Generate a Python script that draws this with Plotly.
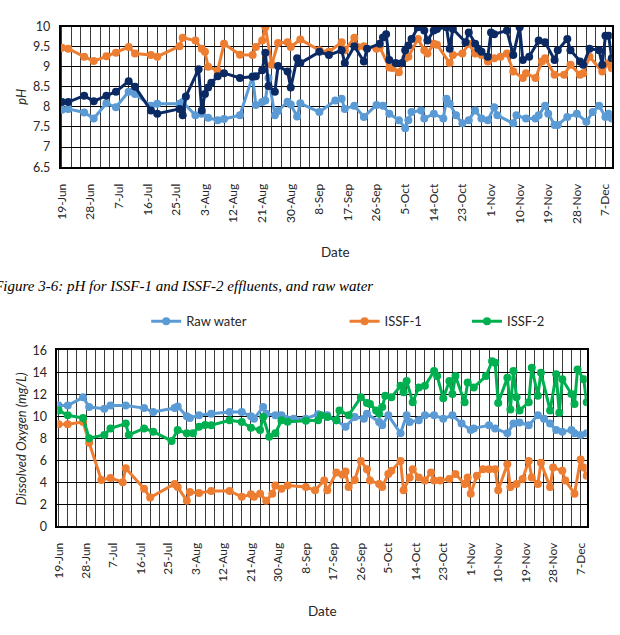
import datetime as dt
import plotly.graph_objects as go

# ---------------- data (days counted from 19-Jun) ----------------
base_date = dt.date(2017, 6, 19)

ph_raw_days = [0,2,7,10,14,17,21,23,28,30,37,38,42,44,46,49,51,56,60,61,63,64,65,67,68,71,72,74,75,81,86,88,89,92,95,99,101,103,106,108,109,110,113,114,117,120,121,122,124,126,128,130,132,134,136,137,142,143,146,149,150,152,153,155,156,159,162,165,167,169,171,172,173]
ph_raw = [7.93,7.95,7.86,7.71,8.09,7.99,8.38,8.32,8.03,8.08,8.08,8.12,7.79,7.83,7.73,7.67,7.7,7.79,8.76,8.05,8.12,8.16,8.72,7.79,7.9,8.13,8.06,7.76,8.09,7.87,8.16,8.2,7.95,8.03,7.75,8.05,8.03,7.83,7.67,7.47,7.67,7.87,7.91,7.71,7.83,7.71,8.2,8.08,7.79,7.59,7.67,7.91,7.71,7.67,7.99,7.79,7.59,7.79,7.71,7.71,7.79,8.03,7.83,7.55,7.55,7.75,7.83,7.63,7.87,8.03,7.75,7.83,7.71]

ph_issf1_days = [0,2,7,10,14,17,21,23,28,30,37,38,42,44,45,46,49,51,56,60,61,63,64,66,68,71,72,75,81,84,88,89,92,93,95,99,100,103,104,106,108,109,112,114,115,117,118,122,123,126,128,130,132,134,136,138,140,142,145,146,149,151,152,155,158,160,163,164,166,170,172,173]
ph_issf1 = [9.47,9.45,9.25,9.14,9.26,9.35,9.49,9.33,9.29,9.25,9.51,9.72,9.65,9.45,9.37,9.0,8.9,9.57,9.30,9.29,9.49,9.65,9.98,9.05,9.59,9.61,9.49,9.68,9.41,9.37,9.61,9.41,9.72,9.49,9.51,9.45,9.49,8.98,8.97,8.86,9.21,9.25,9.69,9.41,9.33,9.57,9.55,9.09,9.29,9.33,9.57,9.33,9.29,9.13,9.21,9.25,9.33,8.88,8.72,8.84,8.72,9.13,9.21,8.8,8.8,9.05,8.8,8.84,9.25,8.88,9.09,8.96]

ph_issf2_days = [0,2,7,10,14,17,21,23,28,30,37,38,39,43,44,45,46,47,49,51,56,60,61,63,64,65,67,68,71,72,74,75,81,84,88,89,92,95,96,100,101,102,103,105,107,108,109,110,112,114,115,117,118,121,122,123,127,128,130,131,132,134,135,136,140,142,144,145,147,150,152,155,156,159,160,163,164,166,169,170,171,172,173]
ph_issf2 = [8.12,8.12,8.28,8.14,8.28,8.38,8.64,8.5,7.91,7.83,7.95,7.79,8.26,8.94,7.91,8.32,8.48,8.6,8.76,8.84,8.72,8.75,8.76,8.91,9.35,8.52,8.38,9.02,8.88,8.48,9.21,9.09,9.37,9.29,9.41,9.09,9.51,9.13,9.45,9.57,9.73,9.81,9.17,9.09,9.09,9.41,9.53,9.69,9.98,9.9,9.65,9.9,9.94,9.98,9.45,9.94,9.61,9.85,9.57,9.45,9.37,9.25,9.85,9.81,9.9,9.29,9.98,9.17,9.25,9.65,9.61,9.17,9.41,9.69,9.41,9.13,9.05,9.45,9.41,9.05,9.77,9.77,9.21]

do_raw_days = [0,3,8,10,15,17,22,28,31,38,39,42,43,46,50,56,60,63,64,67,68,71,73,77,81,85,88,91,94,97,100,101,105,106,108,112,114,115,118,120,123,126,129,132,135,136,141,143,147,149,151,154,157,159,161,163,165,168,169,171,173]
do_raw = [10.98,10.98,11.73,10.84,10.69,10.98,10.98,10.75,10.39,10.75,10.9,10.0,9.85,10.09,10.24,10.39,10.39,10.0,9.79,10.84,10.24,10.09,10.09,9.79,9.79,10.2,10.09,9.64,9.04,9.94,9.79,10.24,9.49,9.19,10.09,8.45,10.09,9.49,9.64,10.09,10.09,9.79,10.09,9.34,8.75,8.9,9.19,8.9,8.45,9.34,9.43,9.19,10.09,9.79,9.34,8.75,8.6,8.75,8.45,8.3,8.45]

do_issf1_days = [0,3,8,10,14,17,21,22,28,30,38,39,42,43,46,50,56,60,63,64,66,68,70,71,73,75,81,84,87,88,91,93,94,95,97,99,101,102,105,106,108,109,112,113,115,116,118,120,122,123,125,128,130,133,134,135,137,139,141,143,144,147,148,150,152,154,155,157,158,161,162,165,166,169,171,172,173]
do_issf1 = [9.28,9.28,9.49,7.6,4.2,4.39,4.0,5.27,3.41,2.61,3.85,3.56,2.31,3.11,3.02,3.2,3.2,2.67,2.9,2.67,2.96,2.31,2.96,3.7,3.41,3.7,3.56,3.26,4.15,3.26,4.89,4.68,4.98,3.56,4.2,5.93,5.19,4.15,3.85,3.56,4.74,5.04,5.93,3.26,4.44,5.19,4.44,4.15,4.89,4.15,4.15,4.3,4.74,3.85,4.44,2.96,4.59,5.19,5.19,5.19,3.26,5.63,3.56,3.85,4.3,5.93,4.44,3.85,5.78,3.56,5.33,5.04,4.15,2.96,6.07,5.33,4.59]

do_issf2_days = [0,3,8,10,15,17,22,23,28,31,37,39,42,44,46,48,50,56,60,63,66,67,69,71,73,75,81,85,86,88,91,92,95,99,101,102,104,105,106,107,109,112,113,114,116,118,120,123,124,126,128,129,130,133,134,136,140,142,143,144,147,148,149,150,151,154,155,157,158,161,163,164,165,168,169,170,172,173]
do_issf2 = [10.54,10.09,9.85,8.0,8.3,8.9,9.34,8.3,8.9,8.6,7.76,8.75,8.45,8.45,9.04,9.2,9.19,9.64,9.49,8.96,8.75,9.94,8.15,8.45,9.64,9.5,9.6,9.64,10.09,9.94,9.64,10.54,10.09,11.73,11.22,11.13,10.54,10.24,10.84,11.88,11.73,12.78,12.2,13.22,11.28,12.63,12.78,14.12,13.67,11.64,13.22,12.03,13.67,11.28,13.07,12.63,13.67,15.01,14.87,11.22,13.52,10.63,14.12,11.73,10.54,11.28,14.42,11.88,13.97,10.54,13.82,10.33,13.37,12.03,11.13,14.27,13.37,11.28]

series_names = ["Raw water", "ISSF-1", "ISSF-2"]
caption = "Figure 3-6: pH for ISSF-1 and ISSF-2 effluents, and raw water"

# ---------------- styling ----------------
C_RAW = "#5B9BD5"
C_ISSF1 = "#ED7D31"
C_ISSF2_PH = "#0B2A63"
C_ISSF2_DO = "#00B050"
FONT = "Lato"
W, H = 620, 635


def to_dates(days):
    return [(base_date + dt.timedelta(days=d)).isoformat() for d in days]


def px_x(p):
    return p / W


def px_y(p):
    return 1 - p / H


fig = go.Figure()

def add(days, vals, name, color, xa, ya, legend=None):
    fig.add_trace(go.Scatter(
        x=to_dates(days), y=vals, name=name, mode="lines+markers",
        line=dict(color=color, width=3),
        marker=dict(color=color, size=8),
        xaxis=xa, yaxis=ya,
        showlegend=legend is not None,
        legend=legend if legend else "legend",
    ))

add(ph_raw_days, ph_raw, series_names[0], C_RAW, "x", "y")
add(ph_issf1_days, ph_issf1, series_names[1], C_ISSF1, "x", "y")
add(ph_issf2_days, ph_issf2, series_names[2], C_ISSF2_PH, "x", "y")
add(do_raw_days, do_raw, series_names[0], C_RAW, "x2", "y2", "legend")
add(do_issf1_days, do_issf1, series_names[1], C_ISSF1, "x2", "y2", "legend2")
add(do_issf2_days, do_issf2, series_names[2], C_ISSF2_DO, "x2", "y2", "legend3")

rng = [(dt.datetime(2017, 6, 19) - dt.timedelta(hours=10)).isoformat(),
       (dt.datetime(2017, 6, 19) + dt.timedelta(days=173)).isoformat()]
DAY = 86400000

xcommon = dict(
    type="date", range=rng, tick0="2017-06-19", dtick=9 * DAY,
    tickformat="%-d-%b", tickangle=-90,
    tickfont=dict(family=FONT, size=12, color="#262626"),
    showgrid=True, gridcolor="#3a3a3a", gridwidth=1,
    minor=dict(dtick=3 * DAY, tick0="2017-06-19", showgrid=True,
               gridcolor="#3a3a3a", gridwidth=1),
    showline=True, linecolor="black", linewidth=1.5, mirror=True,
    ticks="", ticklabelstandoff=10, zeroline=False,
)
ycommon = dict(
    tickfont=dict(family=FONT, size=12.5, color="#262626"),
    showgrid=True, gridcolor="black", gridwidth=1,
    showline=True, linecolor="black", linewidth=1.5, mirror=True,
    ticks="", zeroline=False, ticklabelstandoff=6,
)

fig.update_layout(
    width=W, height=H, margin=dict(l=0, r=0, t=0, b=0),
    paper_bgcolor="white", plot_bgcolor="white",
    xaxis=dict(domain=[px_x(54.3), px_x(612.7)], anchor="y", **xcommon),
    yaxis=dict(domain=[px_y(163), px_y(19)], anchor="x", range=[6.5, 10], dtick=0.5, **ycommon),
    xaxis2=dict(domain=[px_x(51), px_x(587.3)], anchor="y2", **xcommon),
    yaxis2=dict(domain=[px_y(530.7), px_y(350.7)], anchor="x2", range=[0, 16], dtick=2, **ycommon),
    showlegend=True,
)

leg_common = dict(orientation="h", yanchor="middle", xanchor="left",
                  font=dict(family=FONT, size=13, color="#262626"),
                  bgcolor="rgba(0,0,0,0)", borderwidth=0, itemwidth=30)
fig.update_layout(
    legend=dict(x=px_x(141), y=px_y(321), **leg_common),
    legend2=dict(x=px_x(342), y=px_y(321), **leg_common),
    legend3=dict(x=px_x(466), y=px_y(321), **leg_common),
)

lab = dict(xref="paper", yref="paper", showarrow=False, xanchor="center", yanchor="middle")
ann = []
ann.append(dict(text="<i>pH</i>", x=px_x(14), y=px_y(91), textangle=-90,
                font=dict(family=FONT, size=13, color="#262626"), **lab))
ann.append(dict(text="<i>Dissolved Oxygen (mg/L)</i>", x=px_x(14), y=px_y(441), textangle=-90,
                font=dict(family=FONT, size=13, color="#262626"), **lab))
ann.append(dict(text="Date", x=px_x(333), y=px_y(250),
                font=dict(family=FONT, size=13.5, color="#262626"), **lab))
ann.append(dict(text="Date", x=px_x(320), y=px_y(618),
                font=dict(family=FONT, size=13.5, color="#262626"), **lab))
fig.update_layout(annotations=ann)

# caption drawn as a shape label so it can run off the left edge like the original
fig.add_shape(
    type="line", xref="paper", yref="paper",
    x0=px_x(-13), x1=px_x(560), y0=px_y(283), y1=px_y(283),
    line=dict(width=0, color="rgba(0,0,0,0)"),
    label=dict(text=caption, textposition="start", xanchor="left", yanchor="middle",
               padding=0,
               font=dict(family="Liberation Serif", size=15, color="black", style="italic")),
)

fig.write_html("out.html")
